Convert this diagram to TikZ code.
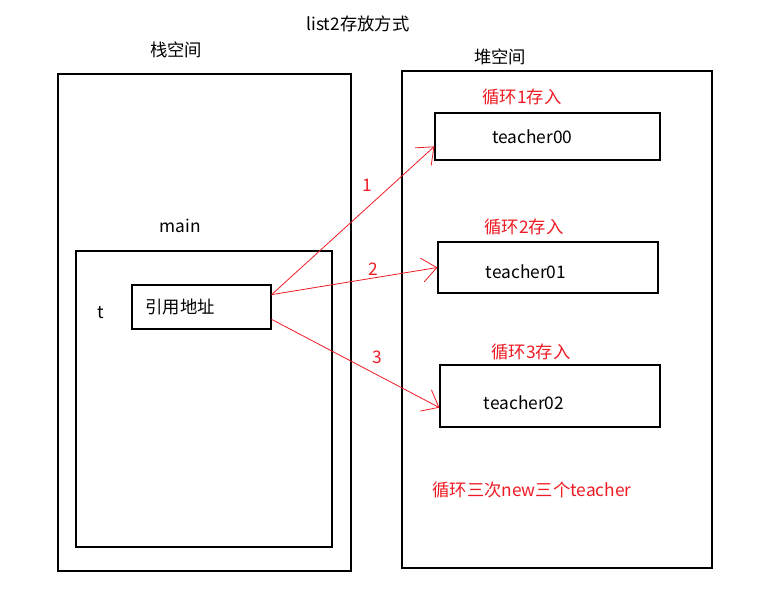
\documentclass[tikz,border=0pt]{standalone}
\usepackage{fontspec}
\setmainfont{Noto Sans CJK SC}
\usetikzlibrary{arrows.meta,positioning}
\definecolor{redink}{RGB}{237,28,36}

\begin{document}
\begin{tikzpicture}[x=0.75pt, y=-0.75pt, font=\fontsize{13}{15}\selectfont,
    box/.style={rectangle, draw=black, line width=0.9pt, inner sep=0pt},
    redtext/.style={text=redink},
    line/.style={draw=redink, line width=0.6pt, -{Straight Barb[length=11pt,width=18pt,line width=0.6pt]}}]

    \useasboundingbox (0,0) rectangle (771,606);

    \node at (358,24) (title) {list2存放方式};
    \node at (176,50) (stacklabel) {栈空间};
    \node at (500,57) (heaplabel) {堆空间};

    % stack and heap
    \node [box, minimum width=219.75pt, minimum height=372.75pt] at (204.5,322.5) (stack) {};
    \node [box, minimum width=232.5pt, minimum height=372.75pt] at (557,319.5) (heap) {};

    % main frame
    \node at (180,226) (mainlabel) {main};
    \node [box, minimum width=192pt, minimum height=222pt] at (204,399) (mainbox) {};
    \node at (101,313) (tvar) {t};
    \node [box, minimum width=104.25pt, minimum height=33pt,
        label={[xshift=-16pt]center:引用地址}] at (201.5,307) (ref) {};

    % objects on the heap
    \node [box, minimum width=168.75pt, minimum height=35.25pt,
        label={[xshift=-11.5pt]center:teacher00}] at (547.5,136.5) (t00) {};
    \node [box, minimum width=165pt, minimum height=38.25pt,
        label={[xshift=-16.5pt, yshift=-3.4pt]center:teacher01}] at (548,267.5) (t01) {};
    \node [box, minimum width=165pt, minimum height=46.5pt,
        label={[xshift=-19.5pt, yshift=-5pt]center:teacher02}] at (550,396) (t02) {};

    \node [redtext] at (522,97) (loop1) {循环1存入};
    \node [redtext] at (524,227) (loop2) {循环2存入};
    \node [redtext] at (531,352) (loop3) {循环3存入};
    \node [redtext] at (532,490) (note) {循环三次new三个teacher};

    \node [redtext] at (367,185) (num1) {1};
    \node [redtext] at (373,269) (num2) {2};
    \node [redtext] at (377,357) (num3) {3};

    \path [line] (ref.10) -- (t00.185);
    \path [line] (ref.10) -- (t01.west);
    \path [line] (ref.-10) -- (t02.186);
  \end{tikzpicture}
\end{document}
